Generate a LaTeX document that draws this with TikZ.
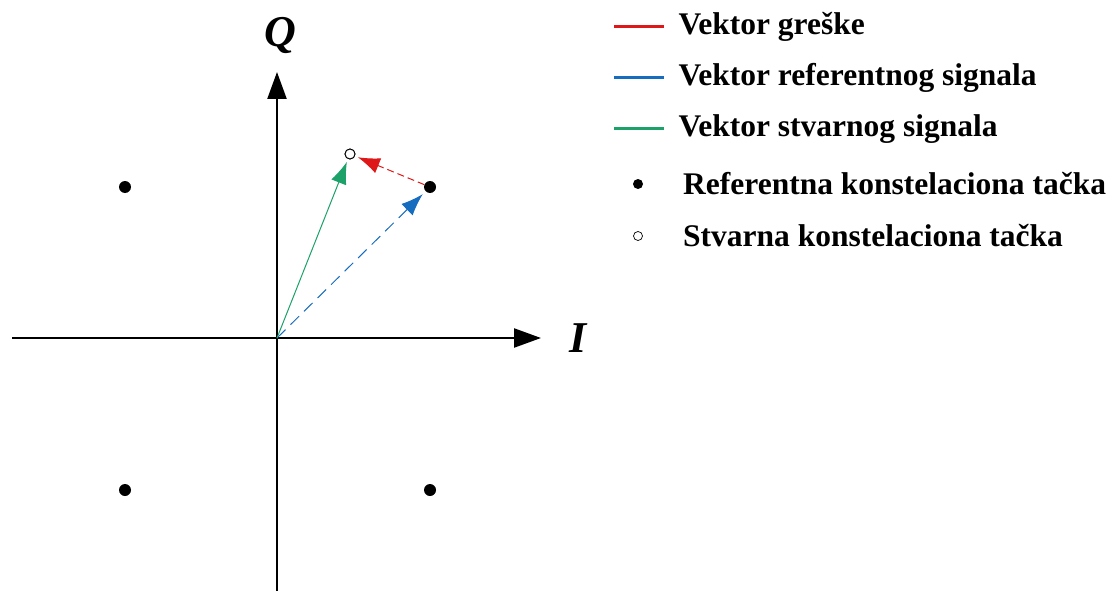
\documentclass[tikz,border=0pt]{standalone}
\usepackage{fontspec}
\setmainfont{Liberation Serif}
\usetikzlibrary{arrows.meta}
\definecolor{errred}{RGB}{222,24,24}
\definecolor{refblue}{RGB}{22,108,190}
\definecolor{actgreen}{RGB}{28,162,104}
\begin{document}
\begin{tikzpicture}[x=1pt, y=-1pt,
  refpt/.style={circle, fill=black, inner sep=0pt, minimum size=12pt},
  actpt/.style={circle, draw=black, fill=white, line width=0.9pt, inner sep=0pt, minimum size=10pt},
  axis/.style={line width=2.4pt, -{Triangle[length=27pt, width=19pt]}},
  vec/.style={line width=1pt, -{Latex[length=22pt, width=16pt]}},
  axlab/.style={font=\fontsize{44}{48}\selectfont\bfseries\itshape},
  legtxt/.style={anchor=west, inner sep=0pt, font=\fontsize{31.5}{34}\selectfont\bfseries}]
  \useasboundingbox (0,0) rectangle (1113,591);
  \coordinate (xl) at (12,338); \coordinate (xr) at (541,338);
  \coordinate (yb) at (277,591); \coordinate (yt) at (277,72);
  \coordinate (o) at (277,338);
  \draw[axis] (xl) -- (xr); \node[axlab] (ilab) at (578,338) {I};
  \draw[axis] (yb) -- (yt); \node[axlab] (qlab) at (280,36) {Q};
  \node[refpt] (p1) at (430,187) {}; \node[refpt] (p2) at (125,187) {};
  \node[refpt] (p3) at (125,490) {}; \node[refpt] (p4) at (430,490) {};
  \node[actpt] (s1) at (350,154) {};
  \draw[vec, refblue, dash pattern=on 12pt off 7pt, shorten >=4pt] (o) -- (p1);
  \draw[vec, actgreen, shorten >=3pt] (o) -- (s1);
  \draw[vec, errred, dash pattern=on 7pt off 4pt, shorten >=3pt] (p1) -- (s1);
  \node[actpt] at (s1) {};
  % legenda
  \draw[errred, line width=3pt] (614,27) -- (664,27) node[legtxt, black] (l1) at (677,27) {Vektor greške};
  \draw[refblue, line width=3pt] (614,78) -- (664,78) node[legtxt, black] (l2) at (677,78) {Vektor referentnog signala};
  \draw[actgreen, line width=3pt] (614,129) -- (664,129) node[legtxt, black] (l3) at (677,129) {Vektor stvarnog signala};
  \node[circle, fill=black, inner sep=0pt, minimum size=10pt] (d1) at (638,184) {};
  \node[legtxt] (l4) at (683,184) {Referentna konstelaciona tačka};
  \node[circle, draw=black, line width=0.7pt, inner sep=0pt, minimum size=9pt] (d2) at (638,236) {};
  \node[legtxt] (l5) at (683,236) {Stvarna konstelaciona tačka};
\end{tikzpicture}
\end{document}
